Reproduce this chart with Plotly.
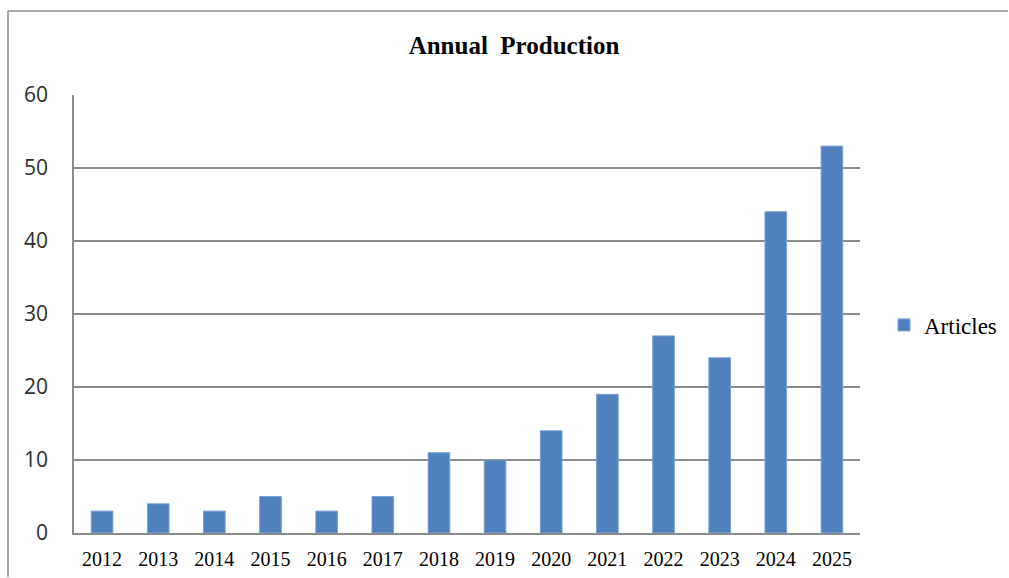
import plotly.graph_objects as go

years = ["2012", "2013", "2014", "2015", "2016", "2017", "2018", "2019",
         "2020", "2021", "2022", "2023", "2024", "2025"]
articles = [3, 4, 3, 5, 3, 5, 11, 10, 14, 19, 27, 24, 44, 53]
y_ticks = [0, 10, 20, 30, 40, 50, 60]
series_name = "Articles"
title_text = "Annual  Production"

W, H = 1009, 578
L, T = 74, 95
PW, PH = 786, 438

fig = go.Figure()
fig.add_trace(go.Bar(
    x=years, y=articles, name=series_name,
    marker=dict(color="#4F81BD", line=dict(color="#7BA0D4", width=1)),
))

fig.update_layout(
    width=W, height=H,
    margin=dict(l=L, r=W - L - PW, t=T, b=H - T - PH, autoexpand=False),
    paper_bgcolor="white", plot_bgcolor="white",
    bargap=0.615,
    showlegend=True,
    title=dict(text="<b>" + title_text + "</b>", x=514 / W, xanchor="center",
               y=1 - 45 / H, yanchor="middle",
               font=dict(family="Liberation Serif", size=25, color="black")),
    legend=dict(x=(884 - L) / PW, y=0.475, xanchor="left", yanchor="middle",
                font=dict(family="Liberation Serif", size=23, color="black"),
                itemwidth=30, bgcolor="rgba(0,0,0,0)"),
    xaxis=dict(showline=True, linecolor="#8C8C8C", linewidth=1.5,
               showgrid=False, ticks="", ticklabelstandoff=7, automargin=False,
               tickfont=dict(family="Liberation Serif", size=20, color="black")),
    yaxis=dict(range=[0, 60], tickvals=y_ticks, showline=True,
               linecolor="#8C8C8C", linewidth=1.5, automargin=False,
               showgrid=True, gridcolor="#8C8C8C", gridwidth=1.5,
               zeroline=False, ticks="", ticklabelstandoff=20,
               tickfont=dict(family="Open Sans", size=21, color="#2E2E2E")),
)

# outer frame (left and top edges visible), kept inside the figure
x_left = (8 - L) / PW
x_right = (W - 1 - L) / PW
y_top = (T + PH - 11) / PH
y_bottom = (T + PH - (H - 1)) / PH
fig.add_shape(type="line", xref="paper", yref="paper", x0=x_left, x1=x_left,
              y0=y_top, y1=y_bottom, line=dict(color="#8C8C8C", width=1.5))
fig.add_shape(type="line", xref="paper", yref="paper", x0=x_left, x1=x_right,
              y0=y_top, y1=y_top, line=dict(color="#8C8C8C", width=1.5))

fig.write_html("out.html",
               config={"displayModeBar": False},
               post_script="document.body.style.margin='0';"
                           "document.body.style.overflow='hidden';")
